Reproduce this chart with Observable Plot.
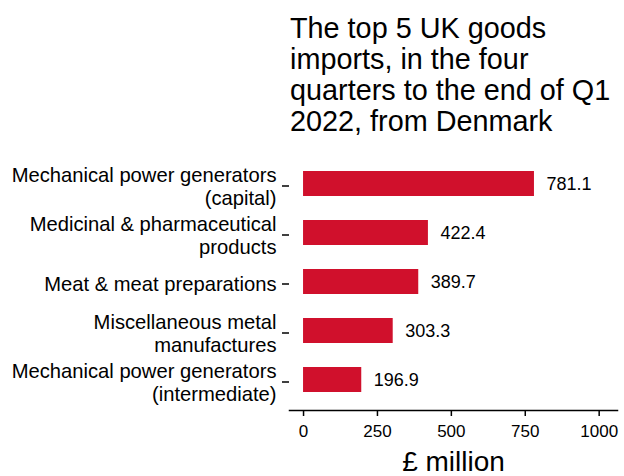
<!DOCTYPE html>
<html>
<head>
<meta charset="utf-8">
<script src="https://cdn.jsdelivr.net/npm/d3@7"></script>
<script src="https://cdn.jsdelivr.net/npm/@observablehq/plot@0.6"></script>
<style>
  body { margin: 0; background: #fff; font-family: "Liberation Sans", Arial, sans-serif; }
  #title { box-sizing: border-box; height: 150px; padding: 13px 0 0 290px; font-size: 28.8px; line-height: 31px; color: #000; white-space: nowrap; }
  svg { font-family: "Liberation Sans", Arial, sans-serif; }
  g[aria-label="x-axis label"] { font-size: 28px; }
</style>
</head>
<body>
<div id="title">The top 5 UK goods<br>imports, in the four<br>quarters to the end of Q1<br>2022, from Denmark</div>
<div id="chart"></div>
<script>
const categories = [
  "Mechanical power generators\n(capital)",
  "Medicinal & pharmaceutical\nproducts",
  "Meat & meat preparations",
  "Miscellaneous metal\nmanufactures",
  "Mechanical power generators\n(intermediate)"
];
const values = [781.1, 422.4, 389.7, 303.3, 196.9];
const xTicks = [0, 250, 500, 750, 1000];
const xLabel = "£ million";
const barColor = "#d0102c";

const data = categories.map((c, i) => ({category: c, value: values[i]}));

const chart = Plot.plot({
  width: 624,
  height: 326,
  marginTop: 2,
  marginBottom: 66,
  marginLeft: 289,
  marginRight: 7,
  style: {fontFamily: "Liberation Sans, Arial, sans-serif", color: "#000", background: "#fff"},
  x: {domain: [-47.5, 1062]},
  y: {domain: categories, paddingInner: 0.5, paddingOuter: 0.356},
  marks: [
    Plot.barX(data, {x1: 0, x2: "value", y: "category", fill: barColor}),
    Plot.text(data, {x: "value", y: "category", text: d => d.value.toFixed(1), dx: 12, textAnchor: "start", fontSize: 18, fill: "#000"}),
    Plot.frame({anchor: "bottom", strokeWidth: 1.5, stroke: "#000"}),
    Plot.axisX({ticks: xTicks, tickFormat: d => String(d), tickSize: 6, tickPadding: 8, fontSize: 17, strokeWidth: 1.5, label: xLabel, labelAnchor: "center", labelArrow: "none", labelOffset: 60}),
    Plot.axisY({tickSize: 7, tickPadding: 6, fontSize: 20.2, lineHeight: 1.15, strokeWidth: 1.5, label: null, dy: 2})
  ]
});
document.getElementById("chart").appendChild(chart);
</script>
</body>
</html>
